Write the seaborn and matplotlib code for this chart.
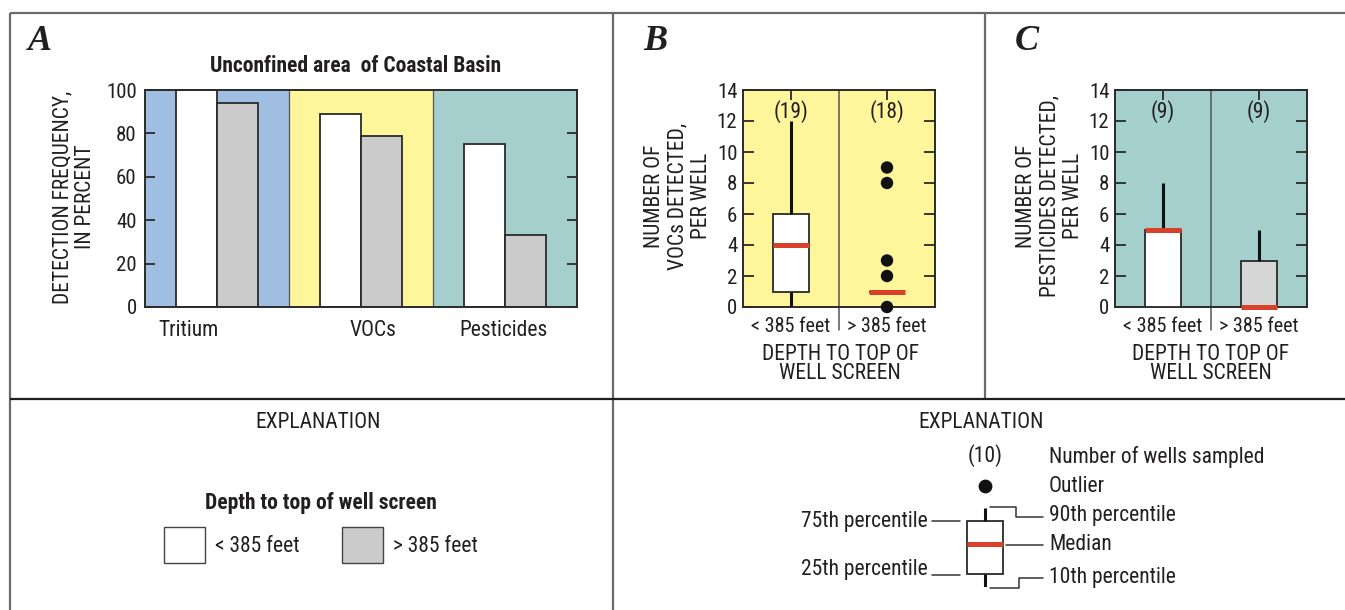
import numpy as np
import pandas as pd
import matplotlib
matplotlib.use("Agg")
import matplotlib.pyplot as plt
from matplotlib import font_manager
from matplotlib.patches import Patch
import seaborn as sns

# ---------------- data ----------------
# Panel A: detection frequency (percent) by constituent group and screen depth
constituents = ["Tritium", "VOCs", "Pesticides"]
depth_classes = ["< 385 feet", "> 385 feet"]
freq_shallow = [100, 89, 75]
freq_deep = [94, 79, 33]

# Panel B: number of VOCs detected per well (box statistics)
voc_shallow = dict(whislo=0, q1=1, med=4, q3=6, whishi=12)
voc_deep = dict(whislo=1, q1=1, med=1, q3=1, whishi=1)
voc_deep_outliers = [0, 2, 3, 8, 9]
voc_counts = [19, 18]

# Panel C: number of pesticides detected per well (box statistics)
pest_shallow = dict(whislo=0, q1=0, med=5, q3=5, whishi=8)
pest_deep = dict(whislo=0, q1=0, med=0, q3=3, whishi=5)
pest_counts = [9, 9]

# Explanation box (schematic values)
explain_box = dict(whislo=0, q1=1, med=3.25, q3=5, whishi=6)
explain_count = 10

# ---------------- style ----------------
W, H = 1345, 610
BLUE = "#a0bee1"
YELLOW = "#fff59b"
TEAL = "#a4cfcd"
GRAY = "#cbcbcb"
RED = "#d9412b"
INK = "#231f20"
EDGE = "#2a2a2a"

# pick the narrowest sans family available
fonts = font_manager.fontManager.ttflist
names = {f.name for f in fonts}
STRETCH = "normal"
if "Liberation Sans Narrow" in names:
    FAMILY = "Liberation Sans Narrow"
elif "Roboto Condensed" in names:
    FAMILY = "Roboto Condensed"
elif any(f.name == "DejaVu Sans" and "condensed" in str(f.stretch) for f in fonts):
    FAMILY = "DejaVu Sans"
    STRETCH = "condensed"
else:
    FAMILY = "Liberation Sans"

sns.set_theme(style="ticks")
plt.rcParams["font.family"] = [FAMILY, "DejaVu Sans"]
plt.rcParams["font.stretch"] = STRETCH
plt.rcParams["text.color"] = INK
plt.rcParams["axes.labelcolor"] = INK
plt.rcParams["xtick.color"] = EDGE
plt.rcParams["ytick.color"] = EDGE
plt.rcParams["xtick.labelcolor"] = INK
plt.rcParams["ytick.labelcolor"] = INK

FS = 15.5     # labels and explanation text
TFS = 15      # tick labels

fig = plt.figure(figsize=(W / 100, H / 100), dpi=100)
fig.patch.set_facecolor("white")


def px_axes(x0, y0, x1, y1, **kw):
    """Add axes given pixel box (left, top, right, bottom)."""
    return fig.add_axes([x0 / W, 1 - y1 / H, (x1 - x0) / W, (y1 - y0) / H], **kw)


# overlay for frame lines and free text (pixel coordinates)
ov = px_axes(0, 0, W, H, zorder=-5)
ov.set_xlim(0, W)
ov.set_ylim(H, 0)
ov.axis("off")

frame_kw = dict(color="#6a6a6a", lw=1.6, solid_capstyle="butt")
ov.plot([10, W], [13, 13], **frame_kw)
ov.plot([10, 10], [13, H], **frame_kw)
ov.plot([613, 613], [13, H], **frame_kw)
ov.plot([985, 985], [13, 399], **frame_kw)
ov.plot([10, W], [399, 399], color="#1e1e1e", lw=1.6, solid_capstyle="butt")

letter_kw = dict(family="Liberation Serif", weight="bold", style="italic",
                 fontsize=26, va="center", ha="left", color=INK)
ov.text(28, 42, "A", **letter_kw)
ov.text(643, 41, "B", **letter_kw)
ov.text(1015, 41, "C", **letter_kw)


def style_spines(ax):
    for s in ax.spines.values():
        s.set_visible(True)
        s.set_color(EDGE)
        s.set_linewidth(1.4)


# ---------------- Panel A ----------------
axA = px_axes(145, 90, 577, 307)
dfA = pd.DataFrame({
    "constituent": constituents * 2,
    "depth": [depth_classes[0]] * 3 + [depth_classes[1]] * 3,
    "frequency": freq_shallow + freq_deep,
})
band_colors = [BLUE, YELLOW, TEAL]
for i, c in enumerate(band_colors):
    axA.axvspan(i - 0.5, i + 0.5, color=c, zorder=0, lw=0)
for i in (0.5, 1.5):
    axA.axvline(i, color="#555555", lw=0.9, zorder=0.5)
sns.barplot(data=dfA, x="constituent", y="frequency", hue="depth",
            order=constituents, hue_order=depth_classes,
            palette=["white", GRAY], width=0.57, errorbar=None,
            edgecolor=EDGE, linewidth=1.3, legend=False, ax=axA, zorder=2)
axA.set_xlim(-0.5, 2.5)
axA.set_ylim(0, 100)
axA.set_yticks(np.arange(0, 101, 20))
axA.set_xticks([-0.2, 1.08, 1.99])
axA.set_xticklabels(constituents)
axA.tick_params(axis="x", length=0, pad=9, labelsize=FS)
axA.tick_params(axis="y", direction="in", left=True, right=True, length=7,
                width=1.3, pad=6, labelsize=TFS)
axA.set_xlabel("")
axA.set_ylabel("")
style_spines(axA)
ov.text(356, 66, "Unconfined area  of Coastal Basin", ha="center", va="center",
        fontsize=15.5, weight="bold")
ov.text(74, 197, "DETECTION FREQUENCY,\nIN PERCENT", rotation=90, ha="center",
        va="center", fontsize=FS, linespacing=1.1)


# ---------------- box panels ----------------
def box_panel(ax, stats_list, fills, counts, bg, outliers=None):
    ax.set_facecolor(bg)
    for pos, (st, fc) in enumerate(zip(stats_list, fills)):
        art = ax.bxp([st], positions=[pos], widths=0.375, showcaps=False,
                     showfliers=False, patch_artist=True,
                     boxprops=dict(facecolor=fc, edgecolor=EDGE, linewidth=1.3),
                     whiskerprops=dict(color="#111111", linewidth=2.2,
                                       solid_capstyle="butt"),
                     medianprops=dict(color=RED, linewidth=3.6,
                                      solid_capstyle="butt"),
                     zorder=3)
        for m in art["medians"]:
            m.set_clip_on(False)
            m.set_zorder(4)
    if outliers is not None:
        for pos, vals in outliers.items():
            sns.scatterplot(x=np.full(len(vals), pos), y=vals, ax=ax,
                            color="#111111", s=80, edgecolor="none",
                            legend=False, zorder=5, clip_on=False)
    ax.plot([0.5, 0.5], [14, -1.5], color="#555555", lw=1.1, clip_on=False,
            zorder=2)
    for pos, n in enumerate(counts):
        ax.text(pos, 12.6, f"({n})", ha="center", va="center", fontsize=FS)
    ax.set_xlim(-0.5, 1.5)
    ax.set_ylim(0, 14)
    ax.set_yticks(np.arange(0, 15, 2))
    ax.set_xticks([0, 1])
    ax.set_xticklabels(depth_classes)
    ax.tick_params(axis="y", direction="in", left=True, right=True, length=8,
                   width=1.3, pad=4, labelsize=TFS)
    ax.tick_params(axis="x", direction="in", top=True, bottom=False, length=7,
                   width=1.3, pad=7, labelsize=14.5)
    ax.set_xlabel("")
    ax.set_ylabel("")
    style_spines(ax)


axB = px_axes(743, 90, 935, 307)
box_panel(axB, [voc_shallow, voc_deep], ["white", "white"], voc_counts, YELLOW,
          outliers={1: voc_deep_outliers})
ov.text(678, 196, "NUMBER OF\nVOCs DETECTED,\nPER WELL", rotation=90,
        ha="center", va="center", fontsize=FS, linespacing=1.18)
ov.text(840, 364, "DEPTH TO TOP OF\nWELL SCREEN", ha="center", va="center",
        fontsize=FS, linespacing=0.9)

axC = px_axes(1115, 90, 1307, 307)
box_panel(axC, [pest_shallow, pest_deep], ["white", "#d6d6d6"], pest_counts, TEAL)
ov.text(1050, 196, "NUMBER OF\nPESTICIDES DETECTED,\nPER WELL", rotation=90,
        ha="center", va="center", fontsize=FS, linespacing=1.18)
ov.text(1211, 364, "DEPTH TO TOP OF\nWELL SCREEN", ha="center", va="center",
        fontsize=FS, linespacing=0.9)

# ---------------- explanation (left) ----------------
ov.text(318, 422, "EXPLANATION", ha="center", va="center", fontsize=FS)
handles = [Patch(facecolor="white", edgecolor="#444444", lw=1.0),
           Patch(facecolor=GRAY, edgecolor="#444444", lw=1.0)]
leg = fig.legend(handles, depth_classes, loc="upper center",
                 bbox_to_anchor=(321 / W, 1 - 473 / H), ncol=2, frameon=False,
                 title="Depth to top of well screen",
                 title_fontproperties={"weight": "bold", "size": 15.5,
                                       "family": FAMILY, "stretch": STRETCH},
                 fontsize=FS, handlelength=1.9, handleheight=2.2,
                 columnspacing=2.0, handletextpad=0.45, labelspacing=0.6)

# ---------------- explanation (right) ----------------
ov.text(981, 422, "EXPLANATION", ha="center", va="center", fontsize=FS)
ov.text(985, 456, f"({explain_count})", ha="center", va="center", fontsize=FS)
ov.scatter([985], [486], s=80, color="#111111", zorder=5)
axE = px_axes(937, 508, 1033, 587)
axE.bxp([explain_box], positions=[0], widths=0.385, showcaps=False,
        showfliers=False, patch_artist=True,
        boxprops=dict(facecolor="white", edgecolor=EDGE, linewidth=1.3),
        whiskerprops=dict(color="#111111", linewidth=2.2, solid_capstyle="butt"),
        medianprops=dict(color=RED, linewidth=3.6, solid_capstyle="butt"))
axE.set_xlim(-0.5, 0.5)
axE.set_ylim(explain_box["whislo"], explain_box["whishi"])
axE.axis("off")

lead = dict(color="#333333", lw=1.1)
ov.plot([932, 960], [521, 521], **lead)
ov.plot([932, 960], [575, 575], **lead)
ov.plot([990, 1016, 1016, 1043], [507, 507, 516.5, 516.5], **lead)
ov.plot([1006, 1043], [545, 545], **lead)
ov.plot([990, 1019, 1019, 1043], [588, 588, 578, 578], **lead)
ov.text(928, 521, "75th percentile", ha="right", va="center", fontsize=FS)
ov.text(928, 570, "25th percentile", ha="right", va="center", fontsize=FS)
right_labels = [(457, "Number of wells sampled"), (486, "Outlier"),
                (516, "90th percentile"), (545, "Median"),
                (578, "10th percentile")]
for y, t in right_labels:
    ov.text(1049, y, t, ha="left", va="center", fontsize=FS)

fig.savefig("out.png", dpi=100, facecolor="white")
